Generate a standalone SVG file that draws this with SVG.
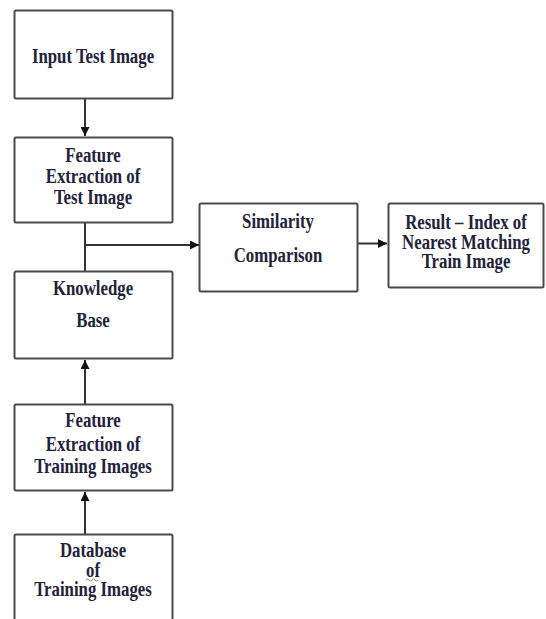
<svg xmlns="http://www.w3.org/2000/svg" width="546" height="619" viewBox="0 0 546 619">
<style>
.box{fill:#fff;stroke:#4a4a4a;stroke-width:2}
.t{font-family:"Liberation Serif","Times New Roman",serif;font-weight:bold;font-size:21px;fill:#22223a;text-anchor:middle}
.c{stroke:#333;stroke-width:2;fill:none}
</style>
<defs>
<marker id="ah" viewBox="0 0 10 10" refX="10" refY="5" markerWidth="4.5" markerHeight="4.5" orient="auto" markerUnits="strokeWidth">
<path d="M0,0 L10,5 L0,10 Z" fill="#111"/>
</marker>
</defs>
<rect width="546" height="619" fill="#fff"/>
<g id="connectors">
<line class="c" x1="85" y1="98" x2="85" y2="136" marker-end="url(#ah)"/>
<line class="c" x1="85" y1="223" x2="85" y2="271"/>
<line class="c" x1="85" y1="245" x2="199" y2="245" marker-end="url(#ah)"/>
<line class="c" x1="357" y1="243.5" x2="387" y2="243.5" marker-end="url(#ah)"/>
<line class="c" x1="85" y1="404" x2="85" y2="360" marker-end="url(#ah)"/>
<line class="c" x1="85" y1="534" x2="85" y2="492" marker-end="url(#ah)"/>
</g>
<g id="input">
<rect class="box" x="14.5" y="10.5" width="158" height="88" rx="1.5"/>
<text class="t" transform="translate(93,63) scale(0.8,1)">Input Test Image</text>
</g>
<g id="feat-test">
<rect class="box" x="14.5" y="137.5" width="158" height="85" rx="1.5"/>
<text class="t" transform="translate(93,162) scale(0.8,1)">Feature</text>
<text class="t" transform="translate(93,183) scale(0.8,1)">Extraction of</text>
<text class="t" transform="translate(93,204) scale(0.8,1)">Test Image</text>
</g>
<g id="knowledge">
<rect class="box" x="14.5" y="271.5" width="158" height="87" rx="1.5"/>
<text class="t" transform="translate(93,295) scale(0.8,1)">Knowledge</text>
<text class="t" transform="translate(93,327) scale(0.8,1)">Base</text>
</g>
<g id="feat-train">
<rect class="box" x="14.5" y="404.5" width="158" height="86" rx="1.5"/>
<text class="t" transform="translate(93,427) scale(0.8,1)">Feature</text>
<text class="t" transform="translate(93,451) scale(0.8,1)">Extraction of</text>
<text class="t" transform="translate(93,473) scale(0.8,1)">Training Images</text>
</g>
<g id="database">
<rect class="box" x="14.5" y="534.5" width="158" height="100" rx="1.5"/>
<text class="t" transform="translate(93,557) scale(0.8,1)">Database</text>
<text class="t" transform="translate(93,577) scale(0.8,1)">of</text>
<path d="M86,580 q1.5,-2 3,0 t3,0 t3,0 t3,0" fill="none" stroke="#6a9a3a" stroke-width="1"/>
<text class="t" transform="translate(93,596) scale(0.8,1)">Training Images</text>
</g>
<g id="similarity">
<rect class="box" x="199.5" y="203.5" width="158" height="88" rx="1.5"/>
<text class="t" transform="translate(278,228) scale(0.8,1)">Similarity</text>
<text class="t" transform="translate(278,262) scale(0.8,1)">Comparison</text>
</g>
<g id="result">
<rect class="box" x="388.5" y="203.5" width="155" height="84" rx="1.5"/>
<text class="t" transform="translate(466,229) scale(0.8,1)">Result – Index of</text>
<text class="t" transform="translate(466,249) scale(0.8,1)">Nearest Matching</text>
<text class="t" transform="translate(466,268) scale(0.8,1)">Train Image</text>
</g>
</svg>
